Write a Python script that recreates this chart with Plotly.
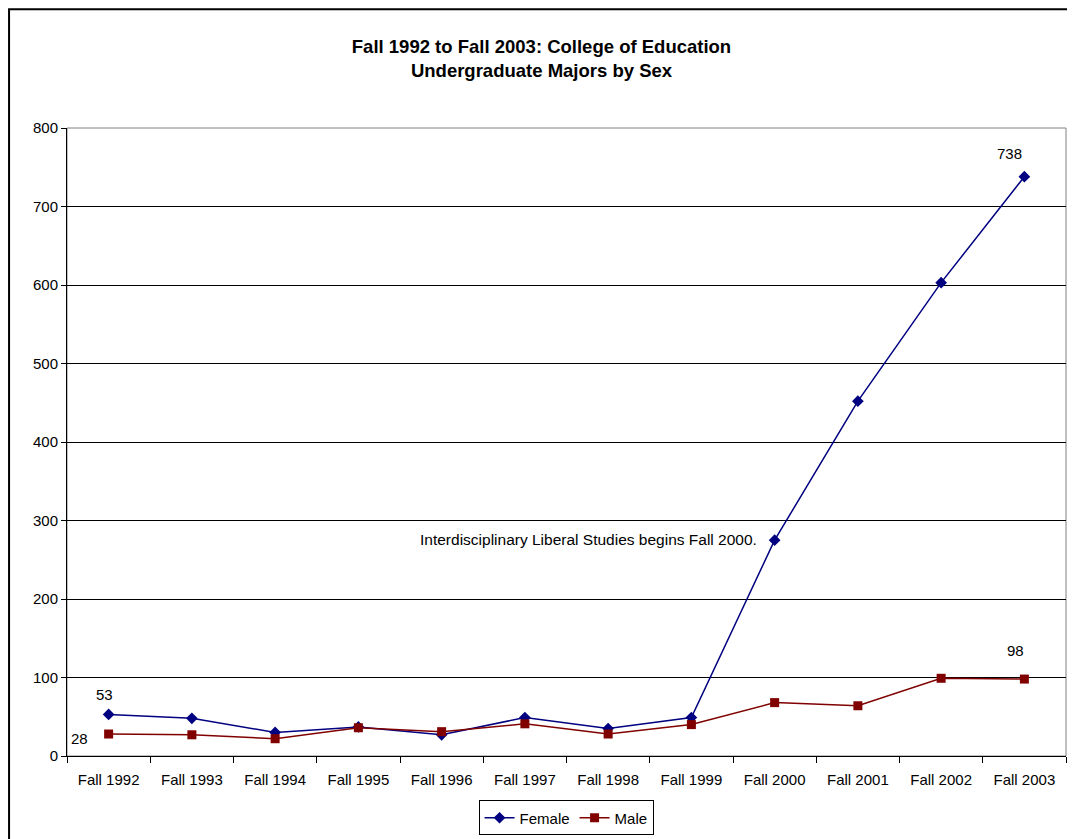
import plotly.graph_objects as go

years = ["Fall 1992", "Fall 1993", "Fall 1994", "Fall 1995", "Fall 1996", "Fall 1997",
         "Fall 1998", "Fall 1999", "Fall 2000", "Fall 2001", "Fall 2002", "Fall 2003"]
female = [53, 48, 30, 37, 27, 49, 35, 49, 275, 452, 603, 738]
male = [28, 27, 22, 36, 31, 41, 28, 40, 68, 64, 99, 98]

FONT = "Liberation Sans, Arial, sans-serif"

fig = go.Figure()
fig.add_trace(go.Scatter(
    x=years, y=female, name="Female", mode="lines+markers",
    line=dict(color="#000080", width=1.5),
    marker=dict(symbol="diamond", size=9, color="#000080"),
))
fig.add_trace(go.Scatter(
    x=years, y=male, name="Male", mode="lines+markers",
    line=dict(color="#800000", width=1.5),
    marker=dict(symbol="square", size=9, color="#800000"),
))

# data labels on first and last points
fig.add_annotation(x=years[0], y=female[0], text=str(female[0]), showarrow=False,
                   yshift=20, xshift=-4)
fig.add_annotation(x=years[0], y=male[0], text=str(male[0]), showarrow=False,
                   xanchor="right", xshift=-19, yshift=-4)
fig.add_annotation(x=years[-1], y=female[-1], text=str(female[-1]), showarrow=False,
                   yshift=23, xshift=-15)
fig.add_annotation(x=years[-1], y=male[-1], text=str(male[-1]), showarrow=False,
                   yshift=29, xshift=-9)
fig.add_annotation(x="Fall 2000", y=female[8], text="Interdisciplinary Liberal Studies begins Fall 2000.",
                   showarrow=False, xanchor="right", xshift=-16, yshift=1,
                   font=dict(size=15.5))

# outer chart border
fig.add_shape(type="rect", xref="paper", yref="paper",
              x0=-0.058, x1=1.005, y0=-0.15, y1=1.189,
              line=dict(color="black", width=2), fillcolor="rgba(0,0,0,0)")

# gray plot-area frame on top/right
fig.add_shape(type="rect", xref="paper", yref="paper", x0=0, x1=1, y0=0, y1=1,
              line=dict(color="#808080", width=1), layer="below")

fig.update_layout(
    width=1067, height=831,
    margin=dict(l=59, r=9, t=120, b=83),
    paper_bgcolor="white", plot_bgcolor="white",
    font=dict(family=FONT, size=15, color="black"),
    title=dict(
        text="<b>Fall 1992 to Fall 2003: College of Education<br>Undergraduate Majors by Sex</b>",
        x=0.5, xanchor="center", y=0.946, yanchor="top",
        font=dict(family=FONT, size=18.5),
    ),
    showlegend=True,
    legend=dict(orientation="h", x=0.523, xanchor="center", xref="container",
                y=0.0253, yanchor="middle", yref="container",
                bordercolor="black", borderwidth=1, font=dict(size=15),
                itemwidth=30, tracegroupgap=0),
)
fig.update_xaxes(
    range=[-0.5, len(years) - 0.5], autorange=False,
    showline=True, linecolor="black", linewidth=1,
    ticks="outside", tickson="boundaries", ticklen=6, tickcolor="black",
    ticklabelstandoff=10,
    showgrid=False, tickfont=dict(size=15),
)
fig.update_yaxes(
    range=[0, 800], dtick=100, showline=True, linecolor="black", linewidth=1,
    ticks="outside", ticklen=5, tickcolor="black",
    showgrid=True, gridcolor="black", gridwidth=1, zeroline=False,
    tickfont=dict(size=15),
)

fig.write_html("out.html")
